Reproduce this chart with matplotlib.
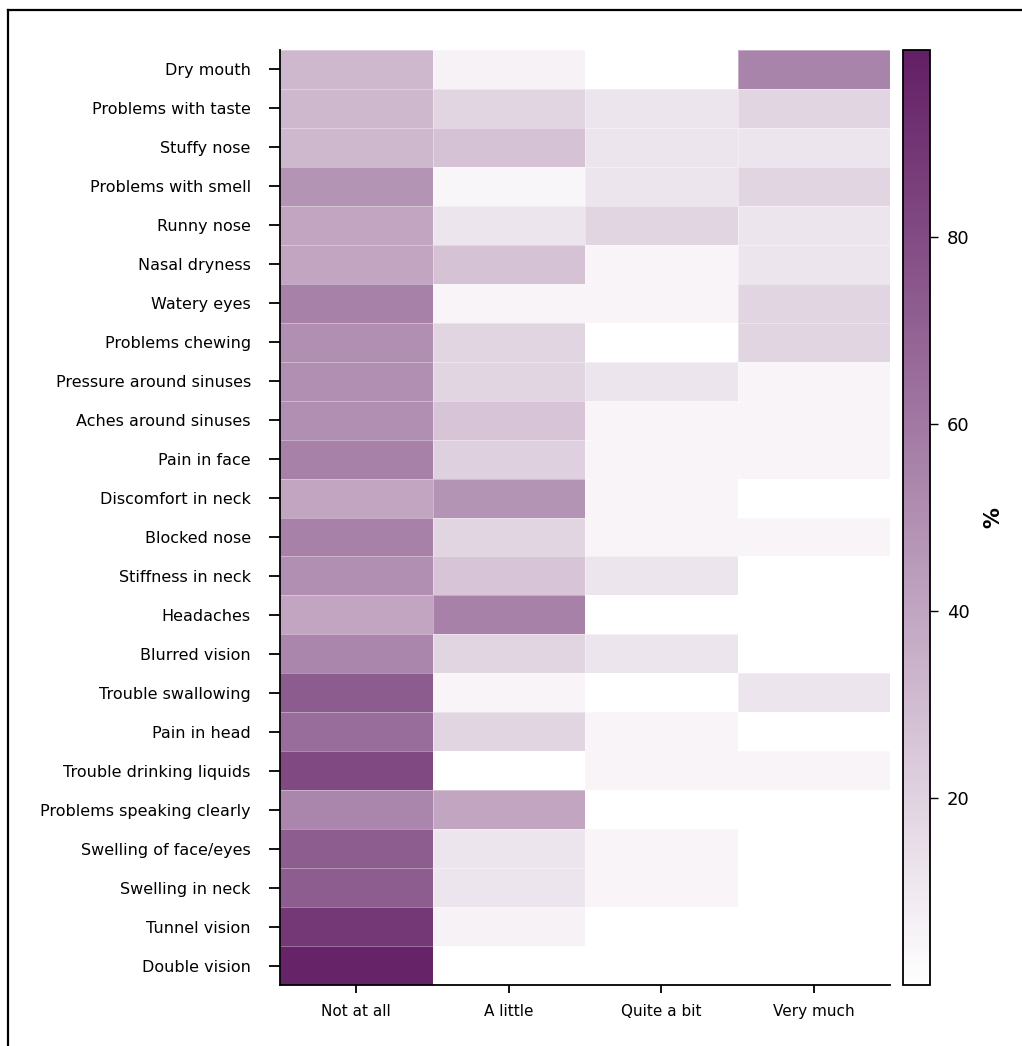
import numpy as np
import matplotlib
matplotlib.use("Agg")
import matplotlib.pyplot as plt
from matplotlib.colors import LinearSegmentedColormap
from matplotlib.lines import Line2D

# symptom rows, top to bottom
symptoms = ["Dry mouth", "Problems with taste", "Stuffy nose", "Problems with smell",
            "Runny nose", "Nasal dryness", "Watery eyes", "Problems chewing",
            "Pressure around sinuses", "Aches around sinuses", "Pain in face",
            "Discomfort in neck", "Blocked nose", "Stiffness in neck", "Headaches",
            "Blurred vision", "Trouble swallowing", "Pain in head",
            "Trouble drinking liquids", "Problems speaking clearly",
            "Swelling of face/eyes", "Swelling in neck", "Tunnel vision", "Double vision"]
responses = ["Not at all", "A little", "Quite a bit", "Very much"]

# percent per response
not_at_all = [32, 32, 32, 48, 40, 40, 56, 50, 50, 50, 56, 40,
              56, 50, 40, 54, 73, 65, 81, 54, 72, 72, 89, 98]
a_little = [6, 19, 27, 4, 12, 27, 5, 19, 19, 26, 21, 48,
            19, 26, 56, 19, 5, 19, 0, 40, 12, 12, 6, 0]
quite_a_bit = [0, 12, 12, 12, 19, 5, 5, 0, 12, 5, 5, 5,
               5, 12, 0, 12, 0, 5, 5, 0, 5, 5, 0, 0]
very_much = [55, 19, 12, 19, 12, 12, 19, 19, 5, 5, 5, 0,
             5, 0, 0, 0, 12, 0, 5, 0, 0, 0, 0, 0]

data = np.array([not_at_all, a_little, quite_a_bit, very_much]).T

cmap = LinearSegmentedColormap.from_list("wp", ["#ffffff", "#631f65"])

fig = plt.figure(figsize=(10.22, 10.46), dpi=100)
ax = fig.add_axes([0.274, 0.0583, 0.597, 0.8939])
cax = fig.add_axes([0.8836, 0.0583, 0.0264, 0.8939])

mesh = ax.pcolormesh(np.arange(5), np.arange(25), data, cmap=cmap, vmin=0, vmax=100,
                     edgecolors=(1, 1, 1, 0.35), linewidth=0.6)
ax.set_xlim(0, 4)
ax.set_ylim(24, 0)
ax.set_xticks(np.arange(4) + 0.5)
ax.set_xticklabels(responses, fontsize=11)
ax.set_yticks(np.arange(24) + 0.5)
ax.set_yticklabels(symptoms, fontsize=11.5)
ax.tick_params(axis="y", length=8, width=1.3, pad=13)
ax.tick_params(axis="x", length=6, width=1.3, pad=8)
for s in ["top", "right"]:
    ax.spines[s].set_visible(False)
for s in ["left", "bottom"]:
    ax.spines[s].set_linewidth(1.3)

cb = fig.colorbar(mesh, cax=cax)
cb.set_ticks([20, 40, 60, 80])
cb.ax.tick_params(labelsize=13, length=6, width=1, pad=6)
cb.outline.set_linewidth(1.3)
cb.set_label("%", fontsize=15, fontweight="bold", labelpad=10)

# frame around the figure (left and top edges visible)
fig.add_artist(Line2D([0.0078, 0.0078], [0.0, 0.9904], color="black", lw=1.6))
fig.add_artist(Line2D([0.0078, 1.0], [0.9904, 0.9904], color="black", lw=1.6))

fig.savefig("out.png", dpi=100)
